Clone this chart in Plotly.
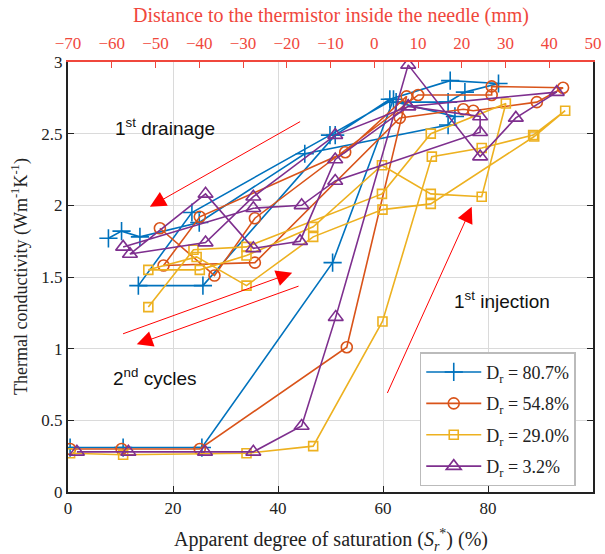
import plotly.graph_objects as go

# ---------------- data ----------------
blue_x = [0.4, 10.5, 25.5, 50.4, 62.0, 49.9, 23.6, 13.4, 25.7, 50.9, 61.3, 72.8, 82.0, 75.6, 72.4, 62.5, 73.7, 72.4, 45.1, 25.0, 13.7, 10.2, 7.7]
blue_y = [0.31, 0.31, 0.31, 1.60, 2.74, 2.49, 1.95, 1.44, 1.44, 2.49, 2.74, 2.87, 2.85, 2.79, 2.72, 2.72, 2.62, 2.56, 2.36, 1.88, 1.78, 1.82, 1.77]

orange_x = [0.4, 10.2, 25.1, 53.1, 64.5, 52.8, 25.1, 18.2, 35.6, 63.2, 75.3, 77.2, 89.3, 94.3, 80.7, 80.7, 66.7, 35.6, 27.9, 17.5]
orange_y = [0.30, 0.30, 0.30, 1.01, 2.76, 2.37, 1.92, 1.58, 1.60, 2.61, 2.67, 2.66, 2.72, 2.82, 2.83, 2.77, 2.77, 1.91, 1.51, 1.84]

yellow_x = [0.4, 10.5, 34.0, 46.7, 59.9, 69.3, 78.8, 88.6, 94.7, 88.8, 69.1, 59.9, 46.7, 34.0, 24.5, 15.3, 25.1, 34.0, 46.7, 59.8, 69.1, 78.8, 83.4, 69.1, 59.8, 34.0, 23.9, 15.3]
yellow_y = [0.27, 0.26, 0.27, 0.32, 1.19, 2.34, 2.40, 2.49, 2.66, 2.48, 2.01, 1.97, 1.78, 1.44, 1.64, 1.55, 1.55, 1.65, 1.85, 2.28, 2.08, 2.06, 2.71, 2.50, 2.08, 1.71, 1.69, 1.29]

purple_x = [1.7, 11.5, 26.1, 35.3, 44.5, 51.0, 64.8, 78.5, 85.3, 93.1, 64.8, 50.9, 35.3, 26.2, 11.8, 26.2, 35.3, 44.2, 50.9, 64.8, 78.5, 78.5, 50.9, 44.5, 35.3, 10.5]
purple_y = [0.28, 0.28, 0.28, 0.28, 0.46, 1.22, 2.98, 2.34, 2.61, 2.79, 2.69, 2.49, 2.06, 1.74, 1.66, 2.08, 1.70, 1.75, 2.32, 2.69, 2.62, 2.51, 2.17, 2.00, 1.98, 1.71]

series_names = ["D<sub>r</sub> = 80.7%", "D<sub>r</sub> = 54.8%", "D<sub>r</sub> = 29.0%", "D<sub>r</sub> = 3.2%"]
series_colors = ["#0072BD", "#D95319", "#EDB120", "#7E2F8E"]
series_symbols = ["cross-thin-open", "circle-open", "square-open", "triangle-up-open"]
series_sizes = [13, 11, 9, 13]

top_ticks = [-70, -60, -50, -40, -30, -20, -10, 0, 10, 20, 30, 40, 50]

SERIF = "Liberation Serif, Times New Roman, serif"
SANS = "Liberation Sans, Arial, sans-serif"
RED = "#F0473C"

fig = go.Figure()
for i, (xs, ys, name, col, sym, sz) in enumerate(zip(
        [blue_x, orange_x, yellow_x, purple_x],
        [blue_y, orange_y, yellow_y, purple_y],
        series_names, series_colors, series_symbols, series_sizes)):
    fig.add_trace(go.Scatter(
        x=xs, y=ys, mode="lines+markers", name=name, legendgroup="g%d" % i,
        line=dict(color=col, width=1.6),
        marker=dict(symbol=sym, size=sz, color=col, line=dict(color=col, width=1.6)),
    ))

# hidden trace to activate the top axis
fig.add_trace(go.Scatter(x=top_ticks, y=[None] * len(top_ticks), xaxis="x2",
                         showlegend=False, hoverinfo="skip", mode="markers"))

fig.update_layout(
    width=605, height=554,
    margin=dict(l=68, r=12, t=62, b=62),
    paper_bgcolor="white", plot_bgcolor="white",
    font=dict(family=SERIF, size=17, color="#222"),
    xaxis=dict(range=[0, 100], dtick=20, showgrid=True, gridcolor="#DADADA", gridwidth=1,
               showline=True, linecolor="#222", linewidth=2, ticks="inside", ticklen=6,
               tickcolor="#222", zeroline=False, mirror=False, automargin=False,
               tickfont=dict(family=SERIF, size=17)),
    xaxis2=dict(range=[-70, 50], dtick=10, overlaying="x", side="top", showgrid=False,
                showline=True, linecolor=RED, linewidth=2, ticks="inside", ticklen=6,
                automargin=False, ticklabelstandoff=4,
                tickcolor=RED, tickfont=dict(family=SERIF, size=17, color=RED), zeroline=False),
    yaxis=dict(range=[0, 3], dtick=0.5, showgrid=True, gridcolor="#DADADA", gridwidth=1,
               showline=True, linecolor="#222", linewidth=2, ticks="inside", ticklen=6,
               tickcolor="#222", mirror="ticks", zeroline=False, automargin=False,
               tickfont=dict(family=SERIF, size=17)),
    legend=dict(x=0.67, y=0.325, xanchor="left", yanchor="top",
                bgcolor="white", bordercolor="#BBBBBB", borderwidth=1.5,
                font=dict(family=SERIF, size=18), itemwidth=55, tracegroupgap=5),
)

# axis titles as annotations for precise placement
fig.add_annotation(x=0.5, y=-0.112, xref="paper", yref="paper", showarrow=False,
                   text="Apparent degree of saturation (<i>S</i><sub><i>r</i></sub><sup>*</sup>) (%)",
                   font=dict(family=SERIF, size=20, color="#222"), yanchor="middle")
fig.add_annotation(x=-0.0914, y=0.5, xref="paper", yref="paper", showarrow=False, textangle=-90,
                   text="Thermal conductivity (Wm<sup>-1</sup>K<sup>-1</sup>)",
                   font=dict(family=SERIF, size=18, color="#222"), xanchor="center", yanchor="middle")
fig.add_annotation(x=0.5, y=1.107, xref="paper", yref="paper", showarrow=False,
                   text="Distance to the thermistor inside the needle (mm)",
                   font=dict(family=SERIF, size=20, color=RED), yanchor="middle")

# arrows (head x, head y, tail x, tail y)
arrows = [
    (15.6, 1.99, 44.5, 2.59),   # 1st drainage
    (42.7, 1.53, 10.2, 1.10),   # 2nd cycles up-right
    (13.1, 1.03, 44.2, 1.44),   # 2nd cycles down-left
    (76.9, 1.99, 60.7, 0.68),   # 1st injection
]
for hx, hy, tx, ty in arrows:
    fig.add_annotation(x=hx, y=hy, ax=tx, ay=ty, xref="x", yref="y", axref="x", ayref="y",
                       showarrow=True, arrowhead=2, arrowsize=3.2, arrowwidth=1,
                       arrowcolor="#FF0000", text="")

labels = [
    (18.5, 2.55, "1<sup>st</sup> drainage"),
    (16.4, 0.80, "2<sup>nd</sup> cycles"),
    (82.7, 1.34, "1<sup>st</sup> injection"),
]
for lx, ly, t in labels:
    fig.add_annotation(x=lx, y=ly, xref="x", yref="y", text=t, showarrow=False,
                       font=dict(family=SANS, size=19, color="#111"))

fig.write_html("out.html", config={"displayModeBar": False},
               post_script="document.body.style.margin='0';document.body.style.padding='0';")
